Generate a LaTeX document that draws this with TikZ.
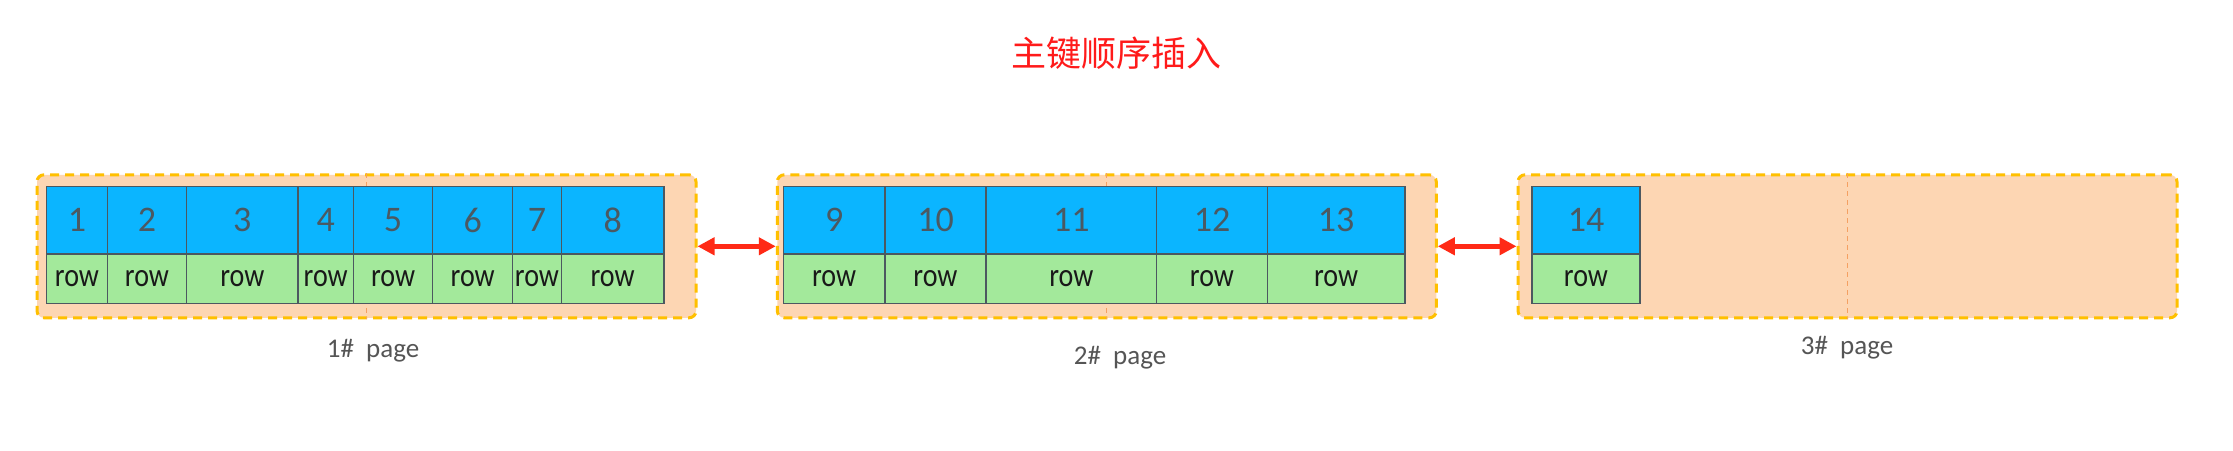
\documentclass[tikz,border=0pt]{standalone}
\usepackage{fontspec}
\setmainfont{Carlito}
\newfontfamily\cjkfont{Noto Sans CJK SC}
\newfontfamily\rowfont[FakeStretch=0.85]{Carlito}
\usepackage{xcolor}
\usetikzlibrary{positioning, arrows.meta}
\definecolor{keyblue}{HTML}{0BB5FF}
\definecolor{rowgreen}{HTML}{A3E99B}
\definecolor{pagefill}{HTML}{FDD6B3}
\definecolor{pageedge}{HTML}{FFC000}
\definecolor{midline}{HTML}{F4A062}
\definecolor{cellline}{HTML}{4C5860}
\definecolor{numgray}{HTML}{4B5962}
\definecolor{labelgray}{HTML}{555555}
\definecolor{titlered}{HTML}{FF1A1A}
\definecolor{linkred}{HTML}{FF2A16}

\begin{document}
\begin{tikzpicture}[x=1pt, y=-1pt,
    pagebox/.style={draw=pageedge, fill=pagefill, line width=3pt, dash pattern=on 9pt off 6pt,
      rounded corners=7pt, minimum width=659pt, minimum height=143pt, inner sep=0pt},
    keycell/.style={draw=cellline, fill=keyblue, line width=1.5pt, inner sep=0pt, outer sep=0pt,
      minimum height=67.5pt, text=numgray, font=\fontsize{36}{40}\selectfont},
    rowcell/.style={draw=cellline, fill=rowgreen, line width=1.5pt, inner sep=0pt, outer sep=0pt,
      minimum height=49.5pt, text=black!90, font=\rowfont\fontsize{33}{36}\selectfont},
    pagelabel/.style={text=labelgray, font=\fontsize{27}{30}\selectfont, anchor=base},
    link/.style={{Triangle[length=17pt,width=17pt]}-{Triangle[length=17pt,width=17pt]},
      line width=4.5pt, color=linkred}]
  \fill[white] (0,0) rectangle (2233,450);
  \useasboundingbox (0,0) rectangle (2233,450);

  \node[text=titlered, font=\cjkfont\fontsize{35}{40}\selectfont] (title) at (1116,53) {主键顺序插入};

  % pages
  \node[pagebox] (p1) at (366.5,246.3) {};
  \node[pagebox] (p2) at (1106.8,246.3) {};
  \node[pagebox] (p3) at (1847.5,246.3) {};
  \foreach \p in {p1,p2,p3}
    \draw[midline, line width=1pt, dash pattern=on 5pt off 4pt] (\p.north) -- (\p.south);

  % records: number / left / right
  \foreach \n/\l/\r in {1/46.7/107.3, 2/107.3/186.7, 3/186.7/298, 4/298/353.5,
      5/353.5/432.7, 6/432.7/512.7, 7/512.7/561.3, 8/561.3/664,
      9/783.3/885, 10/885/986, 11/986/1156.7, 12/1156.7/1267.3, 13/1267.3/1405,
      14/1532/1640} {
    \node[keycell, minimum width={(\r-\l)*1pt}] (k\n) at ({(\l+\r)/2},220.25) {\n};
    \node[rowcell, minimum width={(\r-\l)*1pt}, below=0pt of k\n] (r\n) {row};
  }

  \draw[link] (p1.east) -- (p2.west);
  \draw[link] (p2.east) -- (p3.west);

  \node[pagelabel] (l1) at (373,357) {1\#~~page};
  \node[pagelabel] (l2) at (1120,364) {2\#~~page};
  \node[pagelabel] (l3) at (1847,354) {3\#~~page};
\end{tikzpicture}
\end{document}
